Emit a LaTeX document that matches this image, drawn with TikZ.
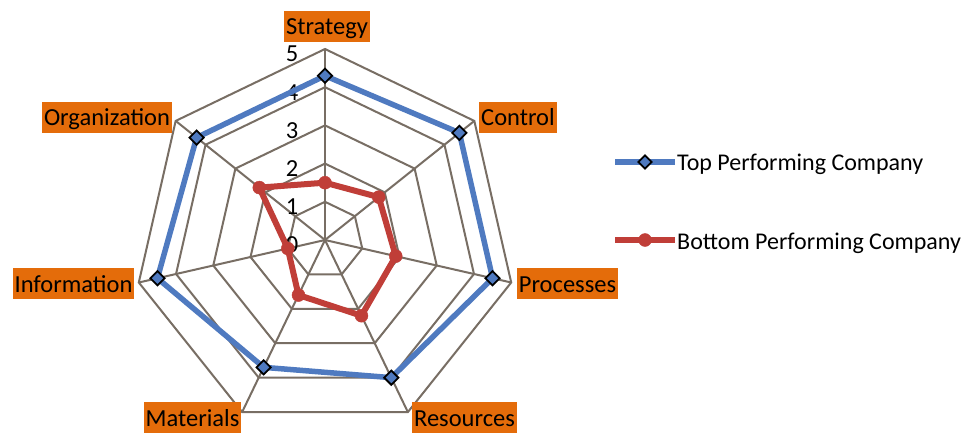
\documentclass[tikz,border=0pt]{standalone}
\usepackage{fontspec}
\setmainfont{Carlito}
\usetikzlibrary{shapes.geometric}
\definecolor{gridc}{RGB}{120,110,100}
\definecolor{topc}{RGB}{79,122,192}
\definecolor{botc}{RGB}{192,62,56}
\definecolor{labc}{RGB}{228,108,10}
\tikzset{
  gridline/.style={draw=gridc, line width=2pt},
  axislabel/.style={fill=labc, text=black, inner xsep=2pt, inner ysep=2pt,
    text height=22pt, text depth=5pt, font=\fontsize{24.5}{28}\selectfont},
  numlab/.style={inner sep=0pt, text=black, font=\fontsize{24.5}{28}\selectfont},
  legtext/.style={inner sep=0pt, text=black, font=\fontsize{24}{28}\selectfont},
  topser/.style={draw=topc, line width=5.5pt, line join=round},
  botser/.style={draw=botc, line width=6pt, line join=round},
  tmark/.style={diamond, draw=black, line width=1.8pt, fill=topc, inner sep=0pt, minimum size=15pt},
  bmark/.style={circle, draw=botc, fill=botc, inner sep=0pt, minimum size=13pt},
}
\begin{document}
\begin{tikzpicture}[x=1pt,y=-1pt]
\useasboundingbox (0,0) rectangle (974,433);
\fill[white] (0,0) rectangle (974,433);
\begin{scope}[shift={(325,240)}, x=38.2pt, y=-38.2pt]
  % rings
  \foreach \k in {1,...,5}
    \draw[gridline] (-90:\k) \foreach \i in {1,...,6} { -- (-90+\i*360/7:\k) } -- cycle;
  % spokes
  \coordinate (c0) at (0,0);
  \foreach \i in {0,...,6} {
    \coordinate (v\i) at (-90+\i*360/7:5);
    \draw[gridline] (c0) -- (v\i);
  }
  % axis numbers
  \foreach \k in {0,...,5}
    \node[numlab] (n\k) at (-0.86,-\k+0.13) {\k};
  % data points
  \foreach \v [count=\i from 0] in {4.3,4.5,4.5,4.0,3.7,4.5,4.3}
    \coordinate (t\i) at (-90+\i*360/7:\v);
  \foreach \v [count=\i from 0] in {1.5,1.8,1.9,2.2,1.6,1.0,2.2}
    \coordinate (b\i) at (-90+\i*360/7:\v);
\end{scope}
% series
\draw[botser] (b0) -- (b1) -- (b2) -- (b3) -- (b4) -- (b5) -- (b6) -- cycle;
\foreach \i in {0,...,6} \node[bmark] (bm\i) at (b\i) {};
\draw[topser] (t0) -- (t1) -- (t2) -- (t3) -- (t4) -- (t5) -- (t6) -- cycle;
\foreach \i in {0,...,6} \node[tmark] (tm\i) at (t\i) {};
% category labels
\node[axislabel] (Lstr) at (327,26.5) {Strategy};
\node[axislabel] (Lcon) at (518,117.5) {Control};
\node[axislabel] (Lpro) at (567.5,283.5) {Processes};
\node[axislabel] (Lres) at (464.5,417.5) {Resources};
\node[axislabel] (Lmat) at (192.5,417.5) {Materials};
\node[axislabel] (Linf) at (73.5,283.5) {Information};
\node[axislabel] (Lorg) at (107,117.5) {Organization};
% legend
\coordinate (la1) at (615,162); \coordinate (la2) at (675,162);
\draw[topser] (la1) -- (la2);
\node[tmark, minimum size=14pt] (lm1) at (645,162) {};
\node[legtext, anchor=base west] (lt1) at (677,170) {Top Performing Company};
\coordinate (lb1) at (615,240); \coordinate (lb2) at (675,240);
\draw[botser] (lb1) -- (lb2);
\node[bmark] (lm2) at (645,240) {};
\node[legtext, anchor=base west] (lt2) at (677,249) {Bottom Performing Company};
\end{tikzpicture}
\end{document}
